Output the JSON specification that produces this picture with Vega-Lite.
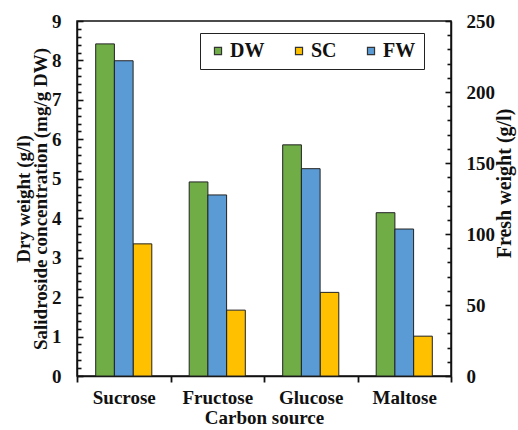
{
  "$schema": "https://vega.github.io/schema/vega-lite/v6.json",
  "width": 374,
  "height": 355,
  "autosize": {"type": "none"},
  "padding": {"left": 77, "top": 21, "right": 67, "bottom": 54},
  "background": "white",
  "config": {
    "font": "Liberation Serif",
    "view": {"stroke": "#111", "strokeWidth": 1.5},
    "axis": {
      "labelFont": "Liberation Serif",
      "labelFontSize": 19,
      "labelFontWeight": "bold",
      "labelColor": "#111",
      "titleFont": "Liberation Serif",
      "titleFontWeight": "bold",
      "titleColor": "#111",
      "domainColor": "#111",
      "domainWidth": 1.5,
      "tickColor": "#111",
      "tickWidth": 1.6,
      "grid": false
    }
  },
  "data": {
    "values": [
      {"source": "Sucrose", "series": "DW", "value": 8.42},
      {"source": "Sucrose", "series": "FW", "value": 222},
      {"source": "Sucrose", "series": "SC", "value": 3.35},
      {"source": "Fructose", "series": "DW", "value": 4.92},
      {"source": "Fructose", "series": "FW", "value": 127.5},
      {"source": "Fructose", "series": "SC", "value": 1.67},
      {"source": "Glucose", "series": "DW", "value": 5.86},
      {"source": "Glucose", "series": "FW", "value": 146},
      {"source": "Glucose", "series": "SC", "value": 2.12},
      {"source": "Maltose", "series": "DW", "value": 4.14},
      {"source": "Maltose", "series": "FW", "value": 103.5},
      {"source": "Maltose", "series": "SC", "value": 1.01}
    ]
  },
  "encoding": {
    "x": {
      "field": "source",
      "type": "nominal",
      "sort": ["Sucrose", "Fructose", "Glucose", "Maltose"],
      "scale": {"paddingInner": 0, "paddingOuter": 0},
      "axis": {
        "title": "Carbon  source",
        "titleFontSize": 19,
        "titlePadding": 1,
        "labelAngle": 0,
        "labelPadding": 6,
        "tickBand": "extent",
        "tickSize": 6,
        "tickWidth": 1.8
      }
    },
    "xOffset": {
      "field": "series",
      "type": "nominal",
      "sort": ["DW", "FW", "SC"],
      "scale": {"domain": ["DW", "FW", "SC"], "paddingInner": 0, "paddingOuter": 1.5}
    },
    "color": {
      "field": "series",
      "type": "nominal",
      "scale": {"domain": ["DW", "SC", "FW"], "range": ["#70AD47", "#FFC000", "#5B9BD5"]},
      "legend": {
        "title": null,
        "orient": "none",
        "legendX": 123,
        "legendY": 12,
        "direction": "horizontal",
        "columns": 3,
        "symbolType": "square",
        "symbolSize": 50,
        "symbolStrokeColor": "#333",
        "symbolStrokeWidth": 1.2,
        "labelFont": "Liberation Serif",
        "labelFontSize": 20,
        "labelFontWeight": "bold",
        "labelColor": "#111",
        "labelOffset": 2,
        "columnPadding": 24,
        "padding": 8,
        "strokeColor": "#222",
        "fillColor": "white"
      }
    }
  },
  "layer": [
    {
      "transform": [{"filter": "datum.series !== 'FW'"}],
      "mark": {"type": "bar", "stroke": "#222", "strokeWidth": 1},
      "encoding": {
        "y": {
          "field": "value",
          "type": "quantitative",
          "scale": {"domain": [0, 9], "nice": false},
          "axis": {
            "title": ["Dry weight (g/l)", "Salidroside concentration (mg/g DW)"],
            "titleFontSize": 19,
            "titleLineHeight": 17,
            "titlePadding": 1,
            "values": [0,1,2,3,4,5,6,7,8,9],
            "format": "d",
            "labelFlush": false,
            "labelPadding": 22,
            "tickSize": -6
          }
        }
      }
    },
    {
      "transform": [{"filter": "datum.series === 'FW'"}],
      "mark": {"type": "bar", "stroke": "#222", "strokeWidth": 1},
      "encoding": {
        "y": {
          "field": "value",
          "type": "quantitative",
          "scale": {"domain": [0, 250], "nice": false},
          "axis": {
            "orient": "right",
            "title": "Fresh weight (g/l)",
            "titleFontSize": 20,
            "titleAngle": 270,
            "titleBaseline": "top",
            "titlePadding": 0,
            "titleY": 162,
            "values": [0,50,100,150,200,250],
            "format": "d",
            "labelFlush": false,
            "labelPadding": 21,
            "tickSize": -6
          }
        }
      }
    },
    {
      "transform": [{"filter": "datum.series !== 'FW'"}],
      "mark": {"type": "bar", "opacity": 0},
      "encoding": {
        "y": {
          "field": "value",
          "type": "quantitative",
          "scale": {"domain": [0, 9], "nice": false},
          "axis": {
            "title": null,
            "labels": false,
            "domain": false,
            "values": [0.2,0.4,0.6,0.8,1.2,1.4,1.6,1.8,2.2,2.4,2.6,2.8,3.2,3.4,3.6,3.8,4.2,4.4,4.6,4.8,5.2,5.4,5.6,5.8,6.2,6.4,6.6,6.8,7.2,7.4,7.6,7.8,8.2,8.4,8.6,8.8],
            "tickSize": -4
          }
        }
      }
    },
    {
      "transform": [{"filter": "datum.series === 'FW'"}],
      "mark": {"type": "bar", "opacity": 0},
      "encoding": {
        "y": {
          "field": "value",
          "type": "quantitative",
          "scale": {"domain": [0, 250], "nice": false},
          "axis": {
            "orient": "right",
            "title": null,
            "labels": false,
            "domain": false,
            "values": [10,20,30,40,60,70,80,90,110,120,130,140,160,170,180,190,210,220,230,240],
            "tickSize": -4
          }
        }
      }
    }
  ],
  "resolve": {"scale": {"y": "independent"}}
}
